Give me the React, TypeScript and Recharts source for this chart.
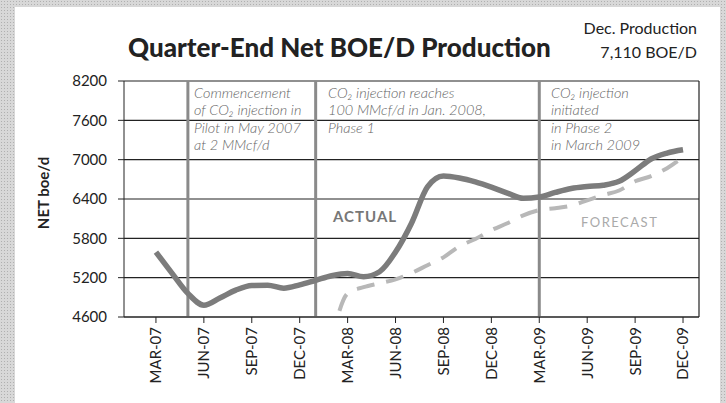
import React from 'react';
import { LineChart, Line, XAxis, YAxis, CartesianGrid, ReferenceLine } from 'recharts';

// monthly points, Mar-07 .. Dec-09
const months = [
  'Mar-07', 'Apr-07', 'May-07', 'Jun-07', 'Jul-07', 'Aug-07', 'Sep-07', 'Oct-07', 'Nov-07', 'Dec-07',
  'Jan-08', 'Feb-08', 'Mar-08', 'Apr-08', 'May-08', 'Jun-08', 'Jul-08', 'Aug-08', 'Sep-08', 'Oct-08',
  'Nov-08', 'Dec-08', 'Jan-09', 'Feb-09', 'Mar-09', 'Apr-09', 'May-09', 'Jun-09', 'Jul-09', 'Aug-09',
  'Sep-09', 'Oct-09', 'Nov-09', 'Dec-09',
];

const actual = [
  5590, 5270, 4960, 4780, 4890, 5010, 5080, 5085, 5040, 5090,
  5160, 5230, 5265, 5215, 5290, 5590, 6030, 6585, 6750, 6720,
  6660, 6580, 6490, 6410, 6430, 6500, 6560, 6590, 6610, 6670,
  6830, 7010, 7100, 7150,
];

const forecast = [
  null, null, null, null, null, null, null, null, null, null,
  null, 4250, 4960, 5055, 5115, 5175, 5270, 5390, 5510, 5680,
  5790, 5925, 6030, 6150, 6230, 6260, 6300, 6380, 6460, 6530,
  6670, 6750, 6870, 7040,
];

const quarterLabels = [
  'MAR-07', 'JUN-07', 'SEP-07', 'DEC-07', 'MAR-08', 'JUN-08',
  'SEP-08', 'DEC-08', 'MAR-09', 'JUN-09', 'SEP-09', 'DEC-09',
];

const yTicks = [4600, 5200, 5800, 6400, 7000, 7600, 8200];

// months where CO2 injection milestones happened
const milestones = ['May-07', 'Jan-08', 'Mar-09'];

const data = months.map((m, i) => ({
  month: m,
  idx: i,
  actual: actual[i],
  forecast: forecast[i],
}));

const quarterTicks = quarterLabels.map(q => months.findIndex(m => m.toUpperCase() === q));

const FONT = 'Lato, "Open Sans", sans-serif';

const XTick = (props: any) => {
  const { x, y, payload } = props;
  const label = quarterLabels[quarterTicks.indexOf(payload.value)];
  return (
    <text
      transform={`translate(${x},${y}) rotate(-90)`}
      textAnchor="end"
      dy="0.36em"
      fontSize={15}
      fontFamily={FONT}
      fill="#222"
    >
      {label}
    </text>
  );
};

const noteStyle = {
  fontFamily: FONT,
  fontSize: 14.5,
  fontStyle: 'italic' as const,
  fontWeight: 300,
  fill: '#666',
};

const App: React.FC = () => {
  return (
    <div
      style={{
        position: 'absolute',
        left: 0,
        top: 0,
        width: 726,
        height: 403,
        background: '#d8d8d8',
        backgroundImage: 'radial-gradient(#b0b0b0 0.7px, transparent 0.8px)',
        backgroundSize: '3px 3px',
        overflow: 'hidden',
      }}
    >
      <div
        style={{
          position: 'absolute',
          left: 15,
          top: 7,
          width: 705,
          height: 400,
          background: '#fff',
        }}
      />
      <div style={{ position: 'absolute', left: 0, top: 0 }}>
        <LineChart
          width={726}
          height={403}
          data={data}
          margin={{ top: 81, right: 27, bottom: 0, left: 0 }}
        >
          <CartesianGrid horizontal vertical={false} stroke="#222" strokeWidth={1.2} />
          <XAxis
            dataKey="idx"
            type="number"
            domain={[-2, 34]}
            allowDataOverflow
            ticks={quarterTicks}
            tick={<XTick />}
            height={86}
            tickSize={6}
            tickMargin={4}
            stroke="#222"
            interval={0}
          />
          <YAxis
            domain={[4600, 8200]}
            allowDataOverflow
            ticks={yTicks}
            width={124}
            tickSize={6}
            tickMargin={11}
            stroke="#222"
            tick={{ fontSize: 15, fill: '#222', fontFamily: FONT }}
          />
          <ReferenceLine x={34} stroke="#222" strokeWidth={1.2} />
          {milestones.map(m => (
            <ReferenceLine
              key={m}
              x={months.indexOf(m)}
              stroke="#8a8a8a"
              strokeWidth={3}
            />
          ))}
          <Line
            dataKey="forecast"
            type="monotone"
            stroke="#b8b8b8"
            strokeWidth={4}
            strokeDasharray="18 12"
            dot={false}
            activeDot={false}
            isAnimationActive={false}
          />
          <Line
            dataKey="actual"
            type="monotone"
            stroke="#7c7c7c"
            strokeWidth={5.5}
            dot={false}
            activeDot={false}
            isAnimationActive={false}
          />
        </LineChart>
      </div>
      <svg
        width={726}
        height={403}
        style={{ position: 'absolute', left: 0, top: 0, pointerEvents: 'none' }}
      >
        <text x={128} y={57} fontFamily={FONT} fontWeight={900} fontSize={26} fill="#222">
          Quarter-End Net BOE/D Production
        </text>
        <text x={697} y={34} textAnchor="end" fontFamily={FONT} fontSize={16} fill="#222">
          Dec. Production
        </text>
        <text x={697} y={58} textAnchor="end" fontFamily={FONT} fontSize={16} fill="#222">
          7,110 BOE/D
        </text>
        <text
          transform="translate(49,193) rotate(-90)"
          textAnchor="middle"
          fontFamily={FONT}
          fontWeight={700}
          fontSize={15}
          fill="#222"
        >
          NET boe/d
        </text>

        <text {...noteStyle} x={194} y={98}>Commencement</text>
        <text {...noteStyle} x={194} y={115}>of CO₂ injection in</text>
        <text {...noteStyle} x={194} y={133}>Pilot in May 2007</text>
        <text {...noteStyle} x={194} y={150}>at 2 MMcf/d</text>

        <text {...noteStyle} x={328} y={98}>CO₂ injection reaches</text>
        <text {...noteStyle} x={328} y={115}>100 MMcf/d in Jan. 2008,</text>
        <text {...noteStyle} x={328} y={133}>Phase 1</text>

        <text {...noteStyle} x={551} y={98}>CO₂ injection</text>
        <text {...noteStyle} x={551} y={115}>initiated</text>
        <text {...noteStyle} x={551} y={133}>in Phase 2</text>
        <text {...noteStyle} x={551} y={150}>in March 2009</text>

        <text x={333} y={222} fontFamily={FONT} fontWeight={700} fontSize={15} letterSpacing={1} fill="#777">
          ACTUAL
        </text>
        <text x={581} y={227} fontFamily={FONT} fontSize={13} letterSpacing={1.5} fill="#aaa">
          FORECAST
        </text>
      </svg>
    </div>
  );
};

export default App;
